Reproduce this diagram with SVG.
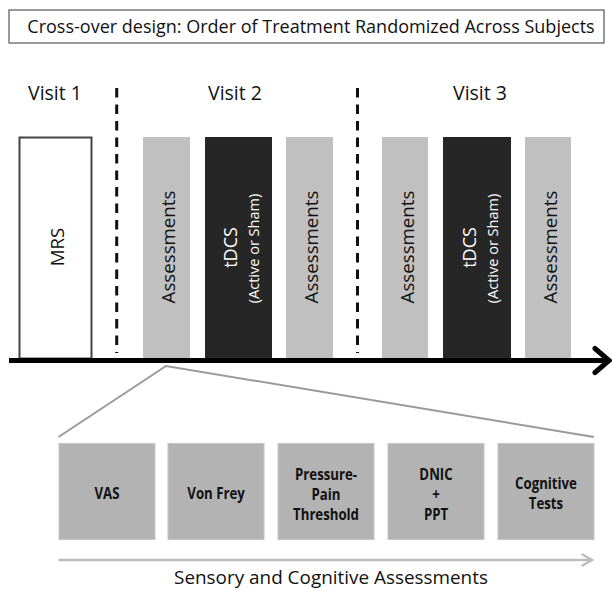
<svg xmlns="http://www.w3.org/2000/svg" width="612" height="591" viewBox="0 0 612 591">
<style>
.t{font-family:"Open Sans","DejaVu Sans",sans-serif;fill:#111}
.title{font-size:18px}
.visit{font-size:19.5px}
.rot{font-size:18.7px;text-anchor:middle}
.tdcs{font-size:18px;text-anchor:middle;fill:#fff}
.sub{font-size:14.5px;text-anchor:middle;fill:#fff}
.b{font-size:16.5px;font-weight:bold;text-anchor:middle}
.bar{fill:#c0c0c0}
.dark{fill:#262626}
.box{fill:#b3b3b3;stroke:#c6c6c6;stroke-width:1}
.dash{stroke:#111;stroke-width:3;stroke-dasharray:9.5 7;fill:none}
.trap{stroke:#9a9a9a;stroke-width:2;fill:none}
</style>
<defs>
<marker id="ahBlack" markerUnits="userSpaceOnUse" markerWidth="26" markerHeight="34" viewBox="0 0 26 34" refX="19" refY="17" orient="auto" overflow="visible">
<path d="M5,5 L19,17 L5,29" fill="none" stroke="#000" stroke-width="5" stroke-linecap="round" stroke-linejoin="miter"/>
</marker>
<marker id="ahGray" markerUnits="userSpaceOnUse" markerWidth="14" markerHeight="14" viewBox="0 0 14 14" refX="11" refY="7" orient="auto" overflow="visible">
<path d="M1.5,1.5 L11,7 L1.5,12.5" fill="none" stroke="#bdbdbd" stroke-width="2.5" stroke-linecap="round"/>
</marker>
</defs>
<rect width="612" height="591" fill="#fff"/>
<g id="title">
<rect x="9" y="10" width="595" height="33" fill="#fff" stroke="#555" stroke-width="1.2"/>
<text class="t title" x="311" y="33" text-anchor="middle">Cross-over design: Order of Treatment Randomized Across Subjects</text>
</g>
<g id="visit-labels">
<text class="t visit" x="28" y="100">Visit 1</text>
<text class="t visit" x="208" y="100">Visit 2</text>
<text class="t visit" x="453" y="100">Visit 3</text>
</g>
<g id="mrs">
<rect x="19.5" y="137.5" width="72" height="221" fill="#fff" stroke="#444" stroke-width="2"/>
<text class="t rot" transform="translate(63.5,247) rotate(-90)">MRS</text>
</g>
<g id="v2-assess-pre">
<rect class="bar" x="143" y="137" width="47" height="221"/>
<text class="t rot" transform="translate(175,247) rotate(-90)">Assessments</text>
</g>
<g id="v2-tdcs">
<rect class="dark" x="205" y="137" width="67" height="221"/>
<text class="t tdcs" transform="translate(237,247.5) rotate(-90)">tDCS</text>
<text class="t sub" transform="translate(259,248.5) rotate(-90)">(Active or Sham)</text>
</g>
<g id="v2-assess-post">
<rect class="bar" x="286" y="137" width="47" height="221"/>
<text class="t rot" transform="translate(318,247) rotate(-90)">Assessments</text>
</g>
<g id="v3-assess-pre">
<rect class="bar" x="382" y="137" width="46" height="221"/>
<text class="t rot" transform="translate(413.5,247) rotate(-90)">Assessments</text>
</g>
<g id="v3-tdcs">
<rect class="dark" x="443" y="137" width="68" height="221"/>
<text class="t tdcs" transform="translate(475.5,247.5) rotate(-90)">tDCS</text>
<text class="t sub" transform="translate(497.5,248.5) rotate(-90)">(Active or Sham)</text>
</g>
<g id="v3-assess-post">
<rect class="bar" x="525" y="137" width="46" height="221"/>
<text class="t rot" transform="translate(556.5,247) rotate(-90)">Assessments</text>
</g>
<g id="connectors">
<line class="dash" x1="116.7" y1="88" x2="116.7" y2="353"/>
<line class="dash" x1="357.5" y1="88" x2="357.5" y2="353"/>
<line x1="9" y1="360.5" x2="609" y2="360.5" stroke="#000" stroke-width="5" marker-end="url(#ahBlack)"/>
<polyline class="trap" points="58.5,437 166,366 594,437"/>
<line x1="58.5" y1="560" x2="592" y2="560" stroke="#bdbdbd" stroke-width="2.5" marker-end="url(#ahGray)"/>
</g>
<g id="vas">
<rect class="box" x="59" y="443.5" width="96" height="96"/>
<text class="t b" transform="translate(107,499) scale(0.8,1)">VAS</text>
</g>
<g id="von-frey">
<rect class="box" x="168" y="443.5" width="96" height="96"/>
<text class="t b" transform="translate(216,499) scale(0.8,1)">Von Frey</text>
</g>
<g id="pressure-pain">
<rect class="box" x="278" y="443.5" width="96" height="96"/>
<text class="t b" transform="translate(326,479.5) scale(0.8,1)">Pressure-</text>
<text class="t b" transform="translate(326,499.5) scale(0.8,1)">Pain</text>
<text class="t b" transform="translate(326,520) scale(0.8,1)">Threshold</text>
</g>
<g id="dnic-ppt">
<rect class="box" x="388" y="443.5" width="96" height="96"/>
<text class="t b" transform="translate(436,479.5) scale(0.8,1)">DNIC</text>
<text class="t b" transform="translate(436,499.5) scale(0.8,1)">+</text>
<text class="t b" transform="translate(436,520) scale(0.8,1)">PPT</text>
</g>
<g id="cognitive">
<rect class="box" x="498" y="443.5" width="96" height="96"/>
<text class="t b" transform="translate(546,489) scale(0.8,1)">Cognitive</text>
<text class="t b" transform="translate(546,509) scale(0.8,1)">Tests</text>
</g>
<g id="bottom-label">
<text class="t" x="331" y="584" font-size="18.9" text-anchor="middle">Sensory and Cognitive Assessments</text>
</g>
</svg>
